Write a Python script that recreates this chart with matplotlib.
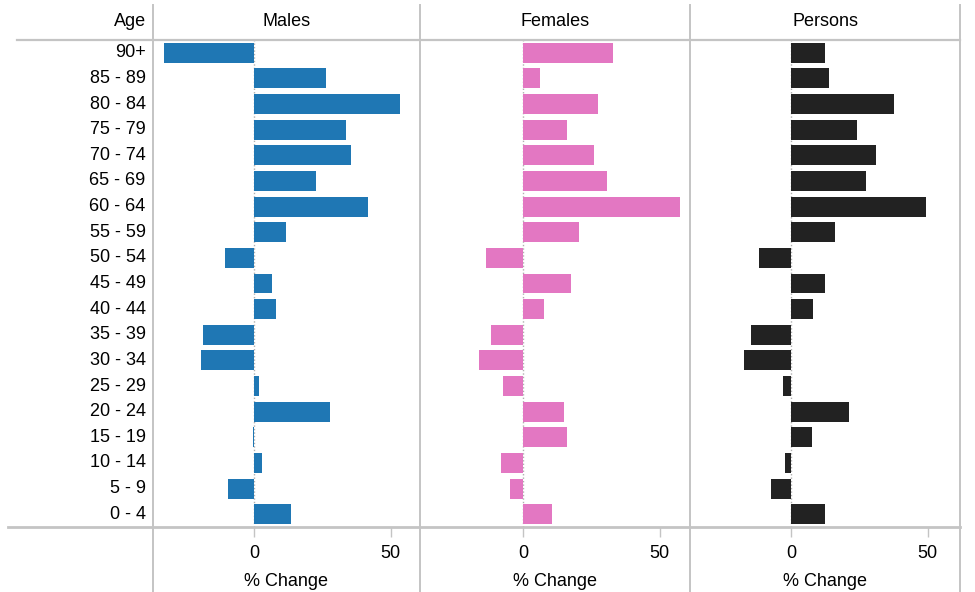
import numpy as np
import matplotlib.pyplot as plt
from matplotlib.lines import Line2D

plt.rcParams['font.family'] = ['Liberation Sans', 'DejaVu Sans']

ages = ['90+', '85 - 89', '80 - 84', '75 - 79', '70 - 74', '65 - 69', '60 - 64',
        '55 - 59', '50 - 54', '45 - 49', '40 - 44', '35 - 39', '30 - 34',
        '25 - 29', '20 - 24', '15 - 19', '10 - 14', '5 - 9', '0 - 4']

males = [-33.0, 26.3, 53.3, 33.6, 35.4, 22.6, 41.6, 11.7, -10.6, 6.6, 8.0,
         -18.6, -19.3, 1.8, 27.7, -0.4, 2.9, -9.5, 13.5]
females = [33.1, 6.2, 27.6, 16.2, 26.1, 30.9, 57.4, 20.6, -13.6, 17.6, 7.7,
           -11.8, -16.2, -7.4, 15.1, 16.2, -8.1, -4.8, 10.7]
persons = [12.4, 13.9, 37.6, 24.1, 31.0, 27.4, 49.3, 16.1, -11.7, 12.4, 8.0,
           -14.6, -17.2, -2.9, 21.2, 7.7, -2.2, -7.3, 12.4]

panels = ['Males', 'Females', 'Persons']
series = [males, females, persons]
colors = ['#1f77b4', '#e377c2', '#222222']
xticks = [0, 50]

W, H = 975, 592
fig = plt.figure(figsize=(W / 100, H / 100), dpi=100)

grey = '#c4c4c4'
fs = 13

def fx(px):
    return px / W

def fy(py):
    return 1 - py / H

top, bottom = 40, 527
edges = [153, 420, 690, 960]
zeros = [254, 523, 791]
scale = 2.73  # px per unit

y = np.arange(len(ages))

for i, (name, vals, col) in enumerate(zip(panels, series, colors)):
    l, r = edges[i], edges[i + 1]
    ax = fig.add_axes([fx(l), fy(bottom), fx(r - l), (bottom - top) / H])
    ax.barh(y, vals, height=0.78, color=col)
    ax.set_xlim((l - zeros[i]) / scale, (r - zeros[i]) / scale)
    ax.set_ylim(len(ages) - 0.5, -0.5)
    ax.axvline(0, color='#b0b0b0', lw=1, ls=(0, (1, 1.5)), zorder=0)
    for s in ax.spines.values():
        s.set_visible(False)
    ax.set_yticks([])
    ax.set_xticks(xticks)
    ax.tick_params(axis='x', length=7, width=1, color=grey, pad=6,
                   labelsize=fs, direction='out')
    ax.set_xlabel('% Change', fontsize=fs, labelpad=8)
    fig.text(fx((l + r) / 2), fy(22), name, ha='center', va='center', fontsize=fs)
    if i == 0:
        for yy, a in zip(y, ages):
            ax.text(-0.028, yy, a, transform=ax.get_yaxis_transform(),
                    ha='right', va='center', fontsize=fs)

fig.text(fx(146), fy(22), 'Age', ha='right', va='center', fontsize=fs)

# frame lines
fig.add_artist(Line2D([fx(17), fx(960)], [fy(top), fy(top)], color=grey, lw=1.6))
fig.add_artist(Line2D([fx(8), fx(960)], [fy(bottom), fy(bottom)], color=grey, lw=2))
for e in edges:
    fig.add_artist(Line2D([fx(e), fx(e)], [fy(5), fy(592)], color=grey, lw=1.4))

fig.savefig('out.png', dpi=100)
